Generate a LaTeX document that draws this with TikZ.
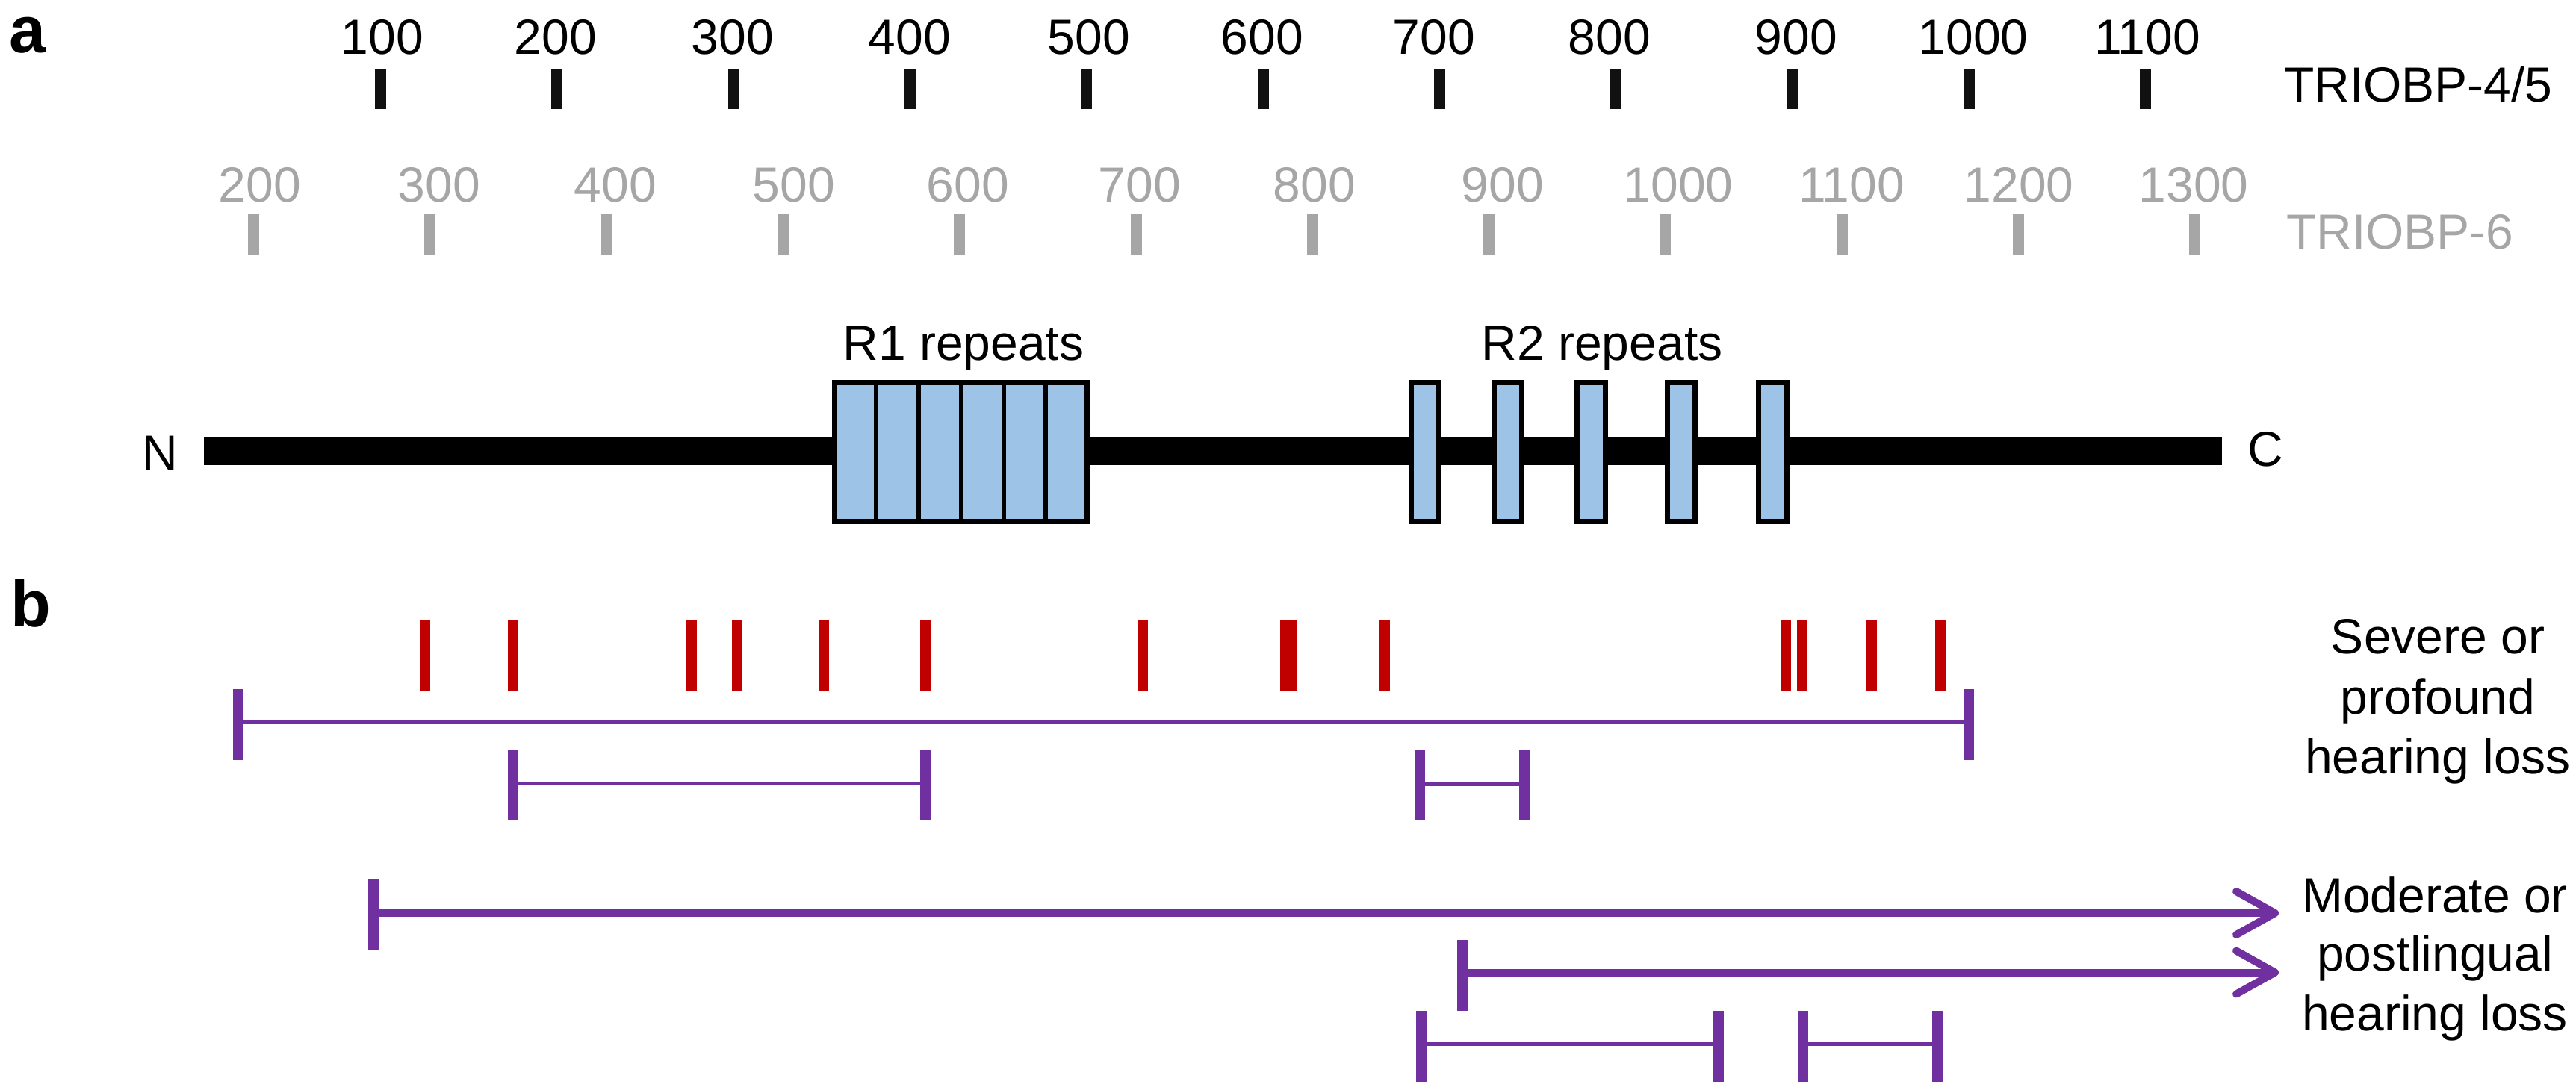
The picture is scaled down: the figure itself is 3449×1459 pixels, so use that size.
\documentclass[tikz,border=0pt]{standalone}
\usepackage{fontspec}
\setmainfont{Liberation Sans}
\definecolor{tickgrey}{RGB}{166,166,166}
\definecolor{tickblack}{RGB}{17,17,17}
\definecolor{mutred}{RGB}{192,0,0}
\definecolor{rangepurple}{RGB}{112,48,160}
\definecolor{repeatblue}{RGB}{157,195,230}
\tikzset{
  lbl/.style={font=\fontsize{13.2}{16}\selectfont, inner sep=0pt, anchor=base},
  panel/.style={font=\fontsize{17.6}{20}\selectfont\bfseries, inner sep=0pt, anchor=base west},
  tickA/.style={draw=tickblack, line width=3pt},
  tickB/.style={draw=tickgrey, line width=3pt},
  mut/.style={draw=mutred, line width=2.8pt},
  rng/.style={draw=rangepurple, line width=1pt},
  rngend/.style={draw=rangepurple, line width=2.8pt},
  arr/.style={draw=rangepurple, line width=2pt},
  chev/.style={draw=rangepurple, line width=2pt, line cap=round, line join=round},
  rep/.style={draw=black, line width=1.3pt, fill=repeatblue},
  repdiv/.style={draw=black, line width=1.2pt},
}
\begin{document}
\begin{tikzpicture}[x=0.2pt,y=-0.2pt]
\useasboundingbox (0,0) rectangle (3449,1459);

% panel labels
\node[panel] (pa) at (11,70) {a};
\node[panel] (pb) at (13,839) {b};

% TRIOBP-4/5 scale
\foreach \v/\tx/\lx in {100/509/512, 200/745/744, 300/982/981, 400/1218/1218,
  500/1454/1458, 600/1691/1690, 700/1927/1920, 800/2163/2155, 900/2400/2405,
  1000/2636/2642, 1100/2872/2875}{
  \draw[tickA] (\tx,92) -- (\tx,146);
  \node[lbl] (ta\v) at (\lx,72) {\v};
}
\node[lbl, anchor=base west] (iso45) at (3057,136) {TRIOBP-4/5};

% TRIOBP-6 scale
\foreach \v/\tx/\lx in {200/339/348, 300/575/588, 400/812/824, 500/1048/1063,
  600/1284/1296, 700/1521/1526, 800/1757/1760, 900/1993/2012, 1000/2229/2247,
  1100/2466/2479, 1200/2702/2703, 1300/2938/2937}{
  \draw[tickB] (\tx,287) -- (\tx,342);
  \node[lbl, text=tickgrey] (tb\v) at (\lx,270) {\v};
}
\node[lbl, anchor=base west, text=tickgrey] (iso6) at (3060,333) {TRIOBP-6};

% protein backbone
\fill[black] (273,585) rectangle (2975,623);
\node[lbl] (nterm) at (214,629) {N};
\node[lbl] (cterm) at (3033,624) {C};

% R1 repeats
\draw[rep] (1117.5,512.5) rectangle (1455.5,698.5);
\foreach \x in {1173,1230,1286.5,1344,1400}{
  \draw[repdiv] (\x,512.5) -- (\x,698.5);
}
\node[lbl] (r1lbl) at (1290,482) {R1 repeats};

% R2 repeats
\foreach \a/\b in {1889.5/1925.5, 2000.5/2037.5, 2111.5/2149.5, 2232.5/2269.5, 2354.5/2392.5}{
  \draw[rep] (\a,512.5) rectangle (\b,698.5);
}
\node[lbl] (r2lbl) at (2145,482) {R2 repeats};

% mutations
\foreach \x in {568.5,687,926,987,1103,1239,1530,1854,2391,2413,2506,2597.5}{
  \draw[mut] (\x,830) -- (\x,925);
}
\draw[mutred, line width=4.3pt] (1725,830) -- (1725,925);

% severe/profound ranges
\coordinate (s1a) at (319,967);  \coordinate (s1b) at (2635.5,967);
\draw[rng] (s1a) -- (s1b);
\draw[rngend] (319,923) -- (319,1018);
\draw[rngend] (2635.5,923) -- (2635.5,1018);

\coordinate (s2a) at (687,1049); \coordinate (s2b) at (1239,1049);
\draw[rng] (s2a) -- (s2b);
\draw[rngend] (687,1004) -- (687,1099);
\draw[rngend] (1239,1004) -- (1239,1099);

\coordinate (s3a) at (1901,1050); \coordinate (s3b) at (2041,1050);
\draw[rng] (s3a) -- (s3b);
\draw[rngend] (1901,1004) -- (1901,1099);
\draw[rngend] (2041,1004) -- (2041,1099);

\node[lbl] (sev1) at (3264,875) {Severe or};
\node[lbl] (sev2) at (3264,956) {profound};
\node[lbl] (sev3) at (3264,1036) {hearing loss};

% moderate/postlingual ranges
\coordinate (m1a) at (500,1223); \coordinate (m1b) at (3040,1223);
\draw[arr] (m1a) -- (m1b);
\draw[rngend] (500,1177) -- (500,1272);
\draw[chev] (2994,1194) -- (3046,1223) -- (2994,1252);

\coordinate (m2a) at (1958,1302.5); \coordinate (m2b) at (3040,1302.5);
\draw[arr] (m2a) -- (m2b);
\draw[rngend] (1958,1259) -- (1958,1354);
\draw[chev] (2994,1273.5) -- (3046,1302.5) -- (2994,1331.5);

\coordinate (m3a) at (1903,1398); \coordinate (m3b) at (2301,1398);
\draw[rng] (m3a) -- (m3b);
\draw[rngend] (1903,1354) -- (1903,1449);
\draw[rngend] (2301,1354) -- (2301,1449);

\coordinate (m4a) at (2413.5,1398); \coordinate (m4b) at (2594,1398);
\draw[rng] (m4a) -- (m4b);
\draw[rngend] (2413.5,1354) -- (2413.5,1449);
\draw[rngend] (2594,1354) -- (2594,1449);

\node[lbl] (mod1) at (3260,1222) {Moderate or};
\node[lbl] (mod2) at (3260,1300) {postlingual};
\node[lbl] (mod3) at (3260,1380) {hearing loss};
\end{tikzpicture}
\end{document}
